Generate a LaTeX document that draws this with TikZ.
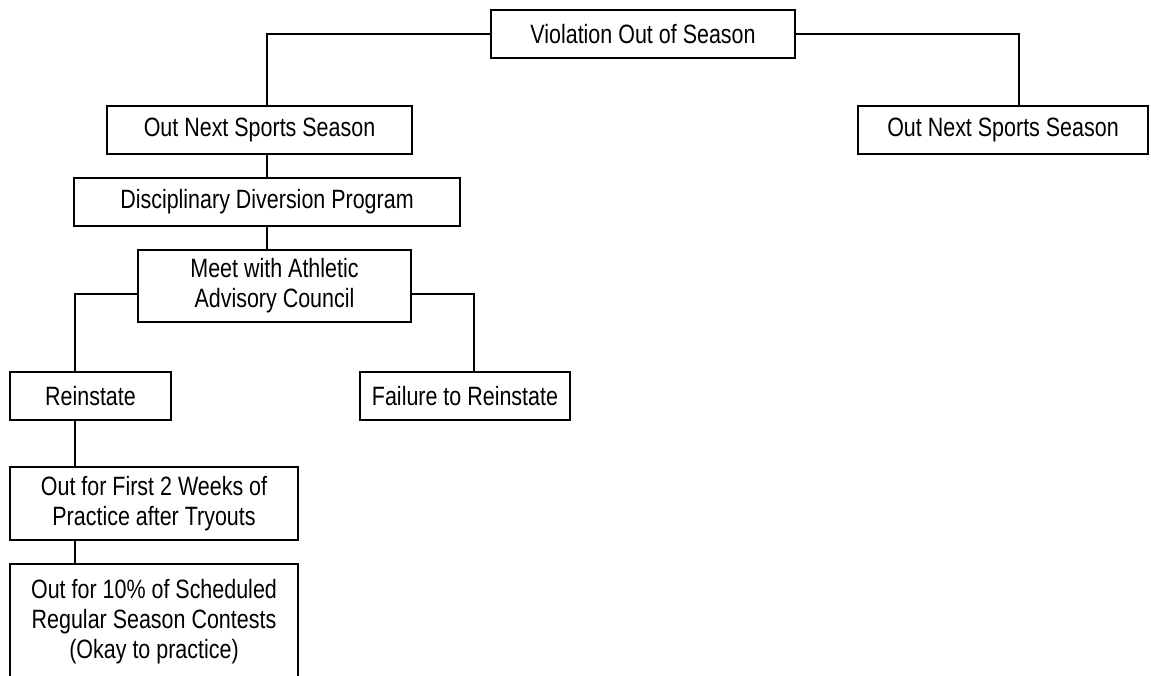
\documentclass[tikz,border=0pt]{standalone}
\usepackage{fontspec}
\setmainfont{Liberation Sans}[FakeStretch=0.81]
\usepackage{tikz}

\begin{document}
\begin{tikzpicture}[x=1pt,y=-1pt,line width=1.9pt,
  box/.style={draw,rectangle,inner sep=0pt,align=center,
    font=\fontsize{26.5}{30}\selectfont}]
\useasboundingbox (0,0) rectangle (1151,675);
% boxes, sizes
\node[box,minimum width=304,minimum height=48] (viol) at (643,34) {Violation Out of Season};
\node[box,minimum width=305,minimum height=48] (onssL) at (259.5,130) {Out Next Sports Season};
\node[box,minimum width=290,minimum height=48] (onssR) at (1003,130) {Out Next Sports Season};
\node[box,minimum width=386,minimum height=48] (ddp) at (267,202) {Disciplinary Diversion Program};
\node[box,minimum width=273,minimum height=72] (meet) at (274.5,286) {Meet with Athletic\\Advisory Council};
\node[box,minimum width=161,minimum height=48] (rein) at (90.5,396) {Reinstate};
\node[box,minimum width=210,minimum height=48] (fail) at (465,396) {Failure to Reinstate};
\node[box,minimum width=288,minimum height=73] (first) at (154,503.5) {Out for First 2 Weeks of\\Practice after Tryouts};
% bottom edge falls off the page
\node[box,minimum width=288,minimum height=116] (last) at (154,622) {Out for 10\% of Scheduled\\Regular Season Contests\\(Okay to practice)};
% connectors
\draw (viol.west) -| (onssL.north -| ddp.north);
\draw (viol.east) -| ([xshift=16pt]onssR.north);
\draw (onssL.south -| ddp.north) -- (ddp.north);
\draw (ddp.south) -- (ddp.south |- meet.north);
\draw ([yshift=-8pt]meet.west) -| ([xshift=-15.5pt]rein.north);
\draw ([yshift=-8pt]meet.east) -| ([xshift=9pt]fail.north);
\draw ([xshift=-15.5pt]rein.south) -- ([xshift=-15.5pt]rein.south |- first.north);
\draw ([xshift=-15.5pt]rein.south |- first.south) -- ([xshift=-15.5pt]rein.south |- last.north);
\end{tikzpicture}
\end{document}
